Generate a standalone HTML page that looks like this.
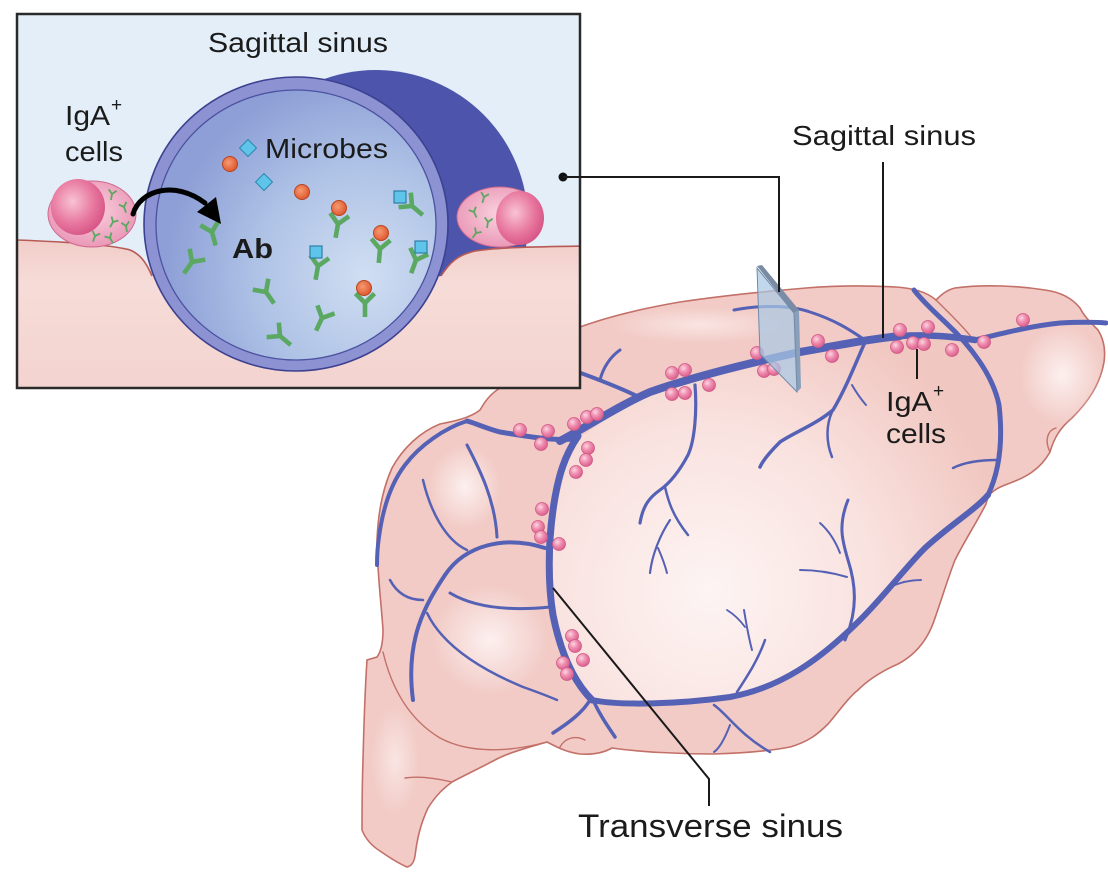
<!DOCTYPE html>
<html><head><meta charset="utf-8"><style>
html,body{margin:0;padding:0;background:#fff;}
svg{display:block;}
text{font-family:"Liberation Sans",Arial,sans-serif;fill:#1b1b1b;}
.v{stroke:#5561b5;fill:none;stroke-linecap:round;stroke-linejoin:round;}
.o{stroke:#c27068;fill:none;stroke-width:1.4;stroke-linecap:round;}
.ln{stroke:#1a1a1a;fill:none;stroke-width:2;}
</style></head><body>
<svg width="1108" height="872" viewBox="0 0 1108 872" xmlns="http://www.w3.org/2000/svg">
<defs>
 <radialGradient id="hemi" gradientUnits="userSpaceOnUse" cx="710" cy="590" r="300">
  <stop offset="0" stop-color="#fdf4f3"/><stop offset="0.55" stop-color="#f9e2df"/><stop offset="1" stop-color="#f1c7c1"/>
 </radialGradient>
 <radialGradient id="hl" cx="0.5" cy="0.5" r="0.5">
  <stop offset="0" stop-color="#fcf0ef" stop-opacity="1"/><stop offset="1" stop-color="#fcf0ef" stop-opacity="0"/>
 </radialGradient>
 <radialGradient id="sph" cx="0.38" cy="0.35" r="0.7">
  <stop offset="0" stop-color="#fcd6e2"/><stop offset="0.45" stop-color="#ef8fb0"/><stop offset="1" stop-color="#d9598a"/>
 </radialGradient>
 <radialGradient id="cyto" cx="0.5" cy="0.45" r="0.6">
  <stop offset="0" stop-color="#f9d3df"/><stop offset="1" stop-color="#e993b3"/>
 </radialGradient>
 <radialGradient id="nuc" cx="0.4" cy="0.4" r="0.65">
  <stop offset="0" stop-color="#f8c3d4"/><stop offset="0.6" stop-color="#e8789f"/><stop offset="1" stop-color="#d65384"/>
 </radialGradient>
 <radialGradient id="disk" gradientUnits="userSpaceOnUse" cx="365" cy="275" r="200">
  <stop offset="0" stop-color="#d0def2"/><stop offset="0.55" stop-color="#aec2e6"/><stop offset="1" stop-color="#8d9fd6"/>
 </radialGradient>
 <linearGradient id="tis" x1="0" y1="240" x2="0" y2="388" gradientUnits="userSpaceOnUse">
  <stop offset="0" stop-color="#f1cdc8"/><stop offset="0.3" stop-color="#f6dcd8"/><stop offset="1" stop-color="#f3d3cf"/>
 </linearGradient>
 <radialGradient id="mic" cx="0.4" cy="0.4" r="0.6">
  <stop offset="0" stop-color="#f59a72"/><stop offset="1" stop-color="#e05a30"/>
 </radialGradient>
 <clipPath id="boxclip"><rect x="17" y="14" width="563" height="374"/></clipPath>
 <g id="ig"><circle r="6.5" fill="url(#sph)" stroke="#cf5a85" stroke-width="0.8"/></g>
 <g id="ab"><path d="M0,0 L0,14 M0,0 L-9.5,-9.5 M0,0 L9.5,-9.5" stroke="#5aa862" stroke-width="4.6" fill="none"/></g>
 <g id="abs"><path d="M0,0 L0,6 M0,0 L-4,-4 M0,0 L4,-4" stroke="#5aa862" stroke-width="1.8" fill="none"/></g>
</defs>

<rect width="1108" height="872" fill="#fff"/>

<!-- ================= BRAIN ================= -->
<path d="M500,388 C492,393 487,398 480,410 C470,418 455,421 440,424 C420,432 403,448 392,468 C382,490 378,515 377,540 C377,570 381,600 383,630 C383,645 380,653 377,657 L367,660 C365,690 364,720 363,760 C362,790 362,815 362,830 C366,840 372,846 380,851 C390,858 400,864 407,867 C412,866 414,862 415,856 C417,840 420,825 428,808 C436,795 444,788 452,782 C465,775 480,768 495,760 C510,752 530,747 547,742 C555,746 565,752 580,754 C595,755 605,752 612,748 C640,752 680,754 714,754 C745,753 770,751 790,747 C808,742 818,734 828,724 C840,710 848,698 858,690 C868,680 880,672 898,664 C915,655 928,640 935,618 C942,598 948,578 955,560 C965,540 978,520 986,504 C988,495 992,490 1005,485 C1025,478 1040,470 1050,452 C1054,438 1060,428 1072,418 C1088,402 1100,385 1104,362 C1106,348 1103,338 1098,330 C1090,322 1084,316 1080,308 C1072,298 1060,292 1045,290 C1020,286 985,284 955,288 C946,290 940,296 936,300 C928,293 915,288 895,287 C860,285 830,286 806,288 C770,291 720,296 680,302 C645,308 610,316 580,327 L580,388 Z" fill="#f2cbc6" stroke="#c27068" stroke-width="1.6"/>

<!-- highlights -->
<ellipse cx="1062" cy="375" rx="42" ry="50" fill="url(#hl)"/>
<ellipse cx="465" cy="487" rx="36" ry="42" fill="url(#hl)"/>
<ellipse cx="490" cy="640" rx="58" ry="55" fill="url(#hl)"/>
<ellipse cx="395" cy="760" rx="24" ry="55" fill="url(#hl)" opacity="0.7"/>
<ellipse cx="700" cy="325" rx="90" ry="18" fill="url(#hl)" opacity="0.7"/>

<!-- hemisphere -->
<path d="M578,438 C600,425 620,405 650,392 C690,378 740,365 800,352 C840,345 870,339 900,336 C930,334 950,337 965,342 C985,365 998,395 1000,430 C1001,460 995,480 988,495 C975,510 950,525 925,548 C905,568 885,595 860,620 C820,660 780,688 730,697 C680,704 620,706 592,700 C572,680 560,650 553,615 C548,585 548,545 553,510 C558,475 565,455 578,438 Z" fill="url(#hemi)"/>

<!-- internal contours -->
<path class="o" d="M383,652 C392,690 410,720 440,738 C470,754 510,752 547,742"/>
<path class="o" d="M452,782 C435,778 418,776 405,778"/>
<path class="o" d="M936,300 C948,312 962,325 972,338"/>
<path class="o" d="M1050,452 C1044,440 1048,430 1056,428"/>
<path class="o" d="M560,747 C565,738 575,735 585,740"/>

<!-- veins: main -->
<path class="v" stroke-width="8" d="M560,441 C590,425 620,405 650,392 C690,378 740,365 800,352 C840,345 870,339 900,336"/>
<path class="v" stroke-width="6.5" d="M900,336 C930,334 955,337 975,340"/>
<path class="v" stroke-width="5" d="M975,340 C1000,334 1030,326 1060,323 C1080,322 1095,322 1106,323"/>
<path class="v" stroke-width="7" d="M578,436 C565,455 558,475 553,510 C548,545 548,585 553,615 C560,650 572,680 592,700"/>
<path class="v" stroke-width="5" d="M578,438 C560,442 530,437 500,432 C485,428 475,423 467,421"/>
<path class="v" stroke-width="4" d="M467,421 C445,428 420,445 405,465 C392,482 383,507 379,537 C377,550 377,560 377,565"/>
<path class="v" stroke-width="6" d="M592,700 C620,706 680,704 730,697 C780,688 820,660 860,620 C885,595 905,568 925,548 C950,525 975,510 988,495"/>
<path class="v" stroke-width="5" d="M988,495 C1000,470 1003,440 999,405 C993,375 970,345 945,322 C930,308 920,298 914,290"/>
<!-- cerebrum branches -->
<path class="v" stroke-width="4" d="M637,396 C620,388 600,380 578,372"/>
<path class="v" stroke-width="3" d="M600,380 C603,368 610,357 620,350"/>
<path class="v" stroke-width="3.2" d="M695,385 C697,410 695,440 688,455 C680,470 670,483 660,490 C650,497 643,505 640,523"/>
<path class="v" stroke-width="2.5" d="M665,487 C668,500 672,515 688,535"/>
<path class="v" stroke-width="2.2" d="M670,520 C660,535 652,555 650,573"/>
<path class="v" stroke-width="2" d="M658,548 C662,557 665,565 667,573"/>
<path class="v" stroke-width="3.5" d="M865,342 C855,365 845,390 833,410 C815,425 795,432 780,442 C770,452 763,460 760,467"/>
<path class="v" stroke-width="2.5" d="M832,412 C826,425 826,442 832,457"/>
<path class="v" stroke-width="2" d="M852,385 C856,392 860,398 866,405"/>
<path class="v" stroke-width="3" d="M845,640 C858,610 856,585 848,560 C842,540 838,525 848,500"/>
<path class="v" stroke-width="2" d="M840,553 C835,540 828,530 820,523"/>
<path class="v" stroke-width="2" d="M847,577 C830,572 815,570 800,570"/>
<path class="v" stroke-width="2" d="M888,588 C900,582 912,580 921,580"/>
<path class="v" stroke-width="2.5" d="M737,692 C748,675 758,660 765,640"/>
<path class="v" stroke-width="2" d="M752,650 C748,635 746,622 744,610"/>
<path class="v" stroke-width="1.8" d="M727,610 C735,615 740,620 745,627"/>
<path class="v" stroke-width="2.5" d="M714,705 C728,715 740,735 770,752"/>
<path class="v" stroke-width="2" d="M730,725 C725,738 720,748 714,752"/>
<path class="v" stroke-width="3" d="M734,310 C760,305 790,305 810,312 C835,320 850,330 862,338"/>
<path class="v" stroke-width="2.5" d="M953,468 C965,462 980,460 997,460"/>
<!-- cerebellum veins -->
<path class="v" stroke-width="3" d="M467,445 C480,470 495,500 497,537"/>
<path class="v" stroke-width="2.5" d="M423,480 C430,510 445,540 467,550"/>
<path class="v" stroke-width="4" d="M545,548 C505,535 465,545 445,575 C425,605 405,640 413,700"/>
<path class="v" stroke-width="3" d="M450,593 C470,605 500,612 550,607"/>
<path class="v" stroke-width="2.5" d="M390,580 C398,595 410,600 423,600"/>
<path class="v" stroke-width="2.5" d="M427,613 C440,640 470,665 523,687 C540,693 550,697 557,700"/>
<path class="v" stroke-width="3.5" d="M590,700 C583,712 570,722 553,733"/>
<path class="v" stroke-width="3.5" d="M594,702 C600,715 607,725 615,737"/>

<!-- IgA cells on brain -->
<g>
<use href="#ig" x="520" y="430"/><use href="#ig" x="548" y="431"/><use href="#ig" x="541" y="444"/>
<use href="#ig" x="574" y="424"/><use href="#ig" x="587" y="417"/><use href="#ig" x="597" y="414"/>
<use href="#ig" x="588" y="448"/><use href="#ig" x="586" y="460"/><use href="#ig" x="576" y="472"/>
<use href="#ig" x="672" y="373"/><use href="#ig" x="685" y="370"/><use href="#ig" x="672" y="394"/>
<use href="#ig" x="685" y="393"/><use href="#ig" x="709" y="385"/><use href="#ig" x="757" y="353"/>
<use href="#ig" x="764" y="371"/><use href="#ig" x="774" y="369"/><use href="#ig" x="818" y="341"/>
<use href="#ig" x="832" y="356"/><use href="#ig" x="900" y="330"/><use href="#ig" x="928" y="327"/>
<use href="#ig" x="897" y="347"/><use href="#ig" x="913" y="343"/><use href="#ig" x="924" y="344"/>
<use href="#ig" x="952" y="350"/><use href="#ig" x="984" y="342"/><use href="#ig" x="1023" y="320"/>
<use href="#ig" x="542" y="509"/><use href="#ig" x="538" y="527"/><use href="#ig" x="541" y="537"/>
<use href="#ig" x="559" y="544"/><use href="#ig" x="572" y="636"/><use href="#ig" x="575" y="646"/>
<use href="#ig" x="583" y="660"/><use href="#ig" x="563" y="663"/><use href="#ig" x="567" y="674"/>
</g>

<!-- glass plate -->
<polygon points="757,266 762,265 799,310 794,313" fill="#7a8ca4"/>
<polygon points="794,313 799,310 801,388 797,392" fill="#8aa0b9"/>
<polygon points="757,268 794,313 797,392 760,354" fill="#a9c7e4" fill-opacity="0.72" stroke="#6f8aab" stroke-width="1"/>

<!-- ================= INSET ================= -->
<g clip-path="url(#boxclip)">
 <rect x="17" y="14" width="563" height="374" fill="#e3eef8"/>
 <circle cx="376" cy="222" r="152" fill="#4c55ab"/>
 <path d="M17,240 C70,242 112,245 130,250 C140,254 146,262 152,276 L300,300 L441,276 C450,262 458,255 475,251 C500,247 540,247 582,246 L582,395 L15,395 Z" fill="url(#tis)"/>
 <path d="M17,240 C70,242 112,245 130,250 C140,254 146,262 152,276 M441,276 C450,262 458,255 475,251 C500,247 540,247 582,246" fill="none" stroke="#b85a55" stroke-width="1.6"/>
 <!-- front sinus -->
 <ellipse cx="296" cy="224" rx="152" ry="147" fill="#8d92d2" stroke="#3c4190" stroke-width="1.6"/>
 <ellipse cx="296" cy="225" rx="140" ry="135" fill="url(#disk)" stroke="#4b52a0" stroke-width="1.3"/>
 <!-- left cell -->
 <ellipse cx="92" cy="214" rx="44" ry="33" fill="url(#cyto)" stroke="#cf6a90" stroke-width="1"/>
 <ellipse cx="78" cy="207" rx="27" ry="28" fill="url(#nuc)"/>
 <use href="#abs" transform="translate(112,194) rotate(10)"/>
 <use href="#abs" transform="translate(124,207) rotate(-20)"/>
 <use href="#abs" transform="translate(113,222) rotate(30)"/>
 <use href="#abs" transform="translate(126,226) rotate(-10)"/>
 <use href="#abs" transform="translate(95,236) rotate(20)"/>
 <use href="#abs" transform="translate(110,238) rotate(-30)"/>
 <!-- right cell -->
 <ellipse cx="500" cy="217" rx="43" ry="30" fill="url(#cyto)" stroke="#cf6a90" stroke-width="1"/>
 <ellipse cx="520" cy="218" rx="24" ry="27" fill="url(#nuc)"/>
 <use href="#abs" transform="translate(484,197) rotate(15)"/>
 <use href="#abs" transform="translate(474,212) rotate(-25)"/>
 <use href="#abs" transform="translate(488,222) rotate(10)"/>
 <use href="#abs" transform="translate(476,233) rotate(35)"/>
 <!-- antibodies -->
 <use href="#ab" transform="translate(212,232) rotate(-15)"/>
 <use href="#ab" transform="translate(192,262) rotate(35)"/>
 <use href="#ab" transform="translate(266,292) rotate(-35)"/>
 <use href="#ab" transform="translate(322,318) rotate(25)"/>
 <use href="#ab" transform="translate(280,336) rotate(-50)"/>
 <use href="#ab" transform="translate(338,224) rotate(10)"/>
 <use href="#ab" transform="translate(380,249) rotate(5)"/>
 <use href="#ab" transform="translate(412,206) rotate(-50)"/>
 <use href="#ab" transform="translate(318,266) rotate(10)"/>
 <use href="#ab" transform="translate(416,260) rotate(20)"/>
 <use href="#ab" transform="translate(365,303) rotate(0)"/>
 <!-- microbes -->
 <circle cx="230" cy="164" r="7.5" fill="url(#mic)" stroke="#b9441f" stroke-width="1"/>
 <circle cx="302" cy="192" r="7.5" fill="url(#mic)" stroke="#b9441f" stroke-width="1"/>
 <circle cx="339" cy="208" r="7.5" fill="url(#mic)" stroke="#b9441f" stroke-width="1"/>
 <circle cx="381" cy="233" r="7.5" fill="url(#mic)" stroke="#b9441f" stroke-width="1"/>
 <circle cx="364" cy="288" r="7.5" fill="url(#mic)" stroke="#b9441f" stroke-width="1"/>
 <rect x="242" y="142" width="12" height="12" fill="#5ec4ea" stroke="#2d88b0" stroke-width="1" transform="rotate(45 248 148)"/>
 <rect x="258" y="176" width="12" height="12" fill="#5ec4ea" stroke="#2d88b0" stroke-width="1" transform="rotate(45 264 182)"/>
 <rect x="394" y="191" width="12" height="12" fill="#5ec4ea" stroke="#2d7fa8" stroke-width="1.2"/>
 <rect x="310" y="246" width="12" height="12" fill="#5ec4ea" stroke="#2d7fa8" stroke-width="1.2"/>
 <rect x="415" y="241" width="12" height="12" fill="#5ec4ea" stroke="#2d7fa8" stroke-width="1.2"/>
 <!-- arrow -->
 <path d="M133,214 C140,190 175,180 205,203" fill="none" stroke="#000" stroke-width="5" stroke-linecap="round"/>
 <polygon points="197,212 216,197 221,224" fill="#000"/>
 <!-- inset text -->
 <text x="208" y="52" font-size="28" textLength="180" lengthAdjust="spacingAndGlyphs">Sagittal sinus</text>
 <text x="65" y="125" font-size="28" textLength="45" lengthAdjust="spacingAndGlyphs">IgA</text>
 <text x="111" y="111" font-size="19">+</text>
 <text x="65" y="161" font-size="28" textLength="58" lengthAdjust="spacingAndGlyphs">cells</text>
 <text x="265" y="158" font-size="28" textLength="123" lengthAdjust="spacingAndGlyphs">Microbes</text>
 <text x="232" y="258" font-size="28" font-weight="bold" textLength="41" lengthAdjust="spacingAndGlyphs">Ab</text>
</g>
<rect x="17" y="14" width="563" height="374" fill="none" stroke="#2a2a2a" stroke-width="2.5"/>

<!-- connectors -->
<circle cx="563" cy="177" r="4.5" fill="#111"/>
<polyline class="ln" points="563,177 779,177 779,292"/>
<line class="ln" x1="883" y1="162" x2="883" y2="338"/>
<line class="ln" x1="917" y1="349" x2="917" y2="379"/>
<polyline class="ln" points="553,588 709,779 709,806" stroke-width="2.4"/>

<!-- labels -->
<text x="792" y="145" font-size="28" textLength="184" lengthAdjust="spacingAndGlyphs">Sagittal sinus</text>
<text x="886" y="411" font-size="28" textLength="46" lengthAdjust="spacingAndGlyphs">IgA</text>
<text x="933" y="397" font-size="19">+</text>
<text x="886" y="443" font-size="28" textLength="60" lengthAdjust="spacingAndGlyphs">cells</text>
<text x="578" y="837" font-size="32" textLength="265" lengthAdjust="spacingAndGlyphs">Transverse sinus</text>
</svg>
</body></html>
